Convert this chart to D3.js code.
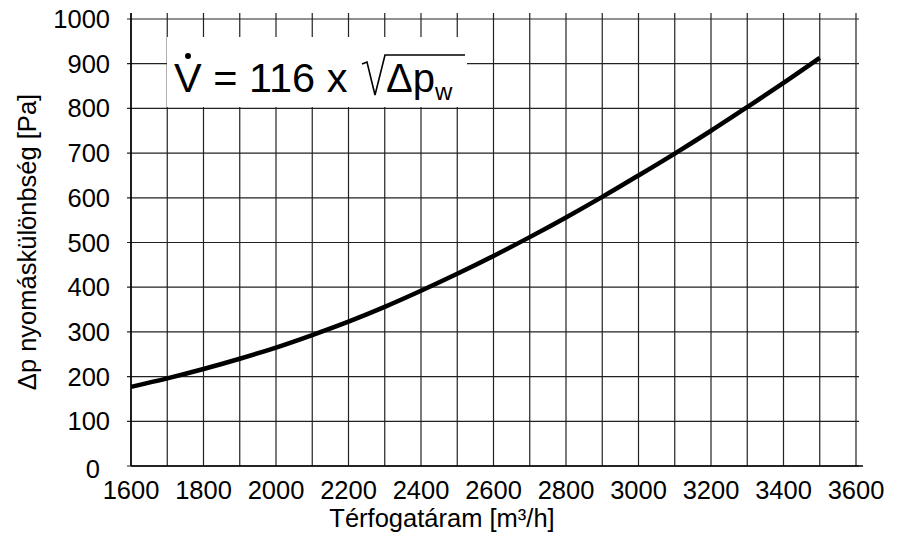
<!DOCTYPE html>
<html>
<head>
<meta charset="utf-8">
<script src="https://cdn.jsdelivr.net/npm/d3@7"></script>
<style>
  body { margin: 0; background: white; }
  text { font-family: "Liberation Sans", Arial, sans-serif; fill: black; }
</style>
</head>
<body>
<div id="chartDIV"></div>
<script>

// values
var flowValues = [1600,1700,1800,1900,2000,2100,2200,2300,2400,2500,2600,2700,2800,2900,3000,3100,3200,3300,3400,3500]
var pressureValues = [177,196,217,240,265,293,323,356,392,430,470,512,556,602,650,699,750,803,857,913]
var xTicks = [1600,1800,2000,2200,2400,2600,2800,3000,3200,3400,3600]
var xGrid = d3.range(1600,3601,100)
var yTicks = [0,100,200,300,400,500,600,700,800,900,1000]
var xLabel = "Térfogatáram [m³/h]"
var yLabel = "Δp nyomáskülönbség [Pa]"

var W = 898, H = 537
var plotLeft = 131, plotRight = 856, plotTop = 19, plotBottom = 466

var svg = d3.select("#chartDIV").append("svg")
  .attr("width",W)
  .attr("height",H)

var x = d3.scaleLinear().domain([1600,3600]).range([plotLeft,plotRight])
var y = d3.scaleLinear().domain([0,1000]).range([plotBottom,plotTop])

// grid
svg.append("g").selectAll("line")
  .data(xGrid)
  .enter()
  .append("line")
  .attr("x1",function(d){ return x(d) })
  .attr("x2",function(d){ return x(d) })
  .attr("y1",plotTop-6)
  .attr("y2",plotBottom)
  .attr("stroke","#222")
  .attr("stroke-width",1.2)

svg.append("g").selectAll("line")
  .data(yTicks)
  .enter()
  .append("line")
  .attr("x1",plotLeft-4)
  .attr("x2",plotRight+3)
  .attr("y1",function(d){ return y(d) })
  .attr("y2",function(d){ return y(d) })
  .attr("stroke","#222")
  .attr("stroke-width",1.2)

// axes lines
svg.append("line")
  .attr("x1",plotLeft).attr("x2",plotRight+7)
  .attr("y1",plotBottom).attr("y2",plotBottom)
  .attr("stroke","black").attr("stroke-width",1.5)
svg.append("line")
  .attr("x1",plotLeft).attr("x2",plotLeft)
  .attr("y1",plotTop-6).attr("y2",plotBottom)
  .attr("stroke","black").attr("stroke-width",1.5)

// tick labels
svg.append("g").selectAll("text")
  .data(yTicks)
  .enter()
  .append("text")
  .attr("x",function(d){ return d==0 ? plotLeft-31 : plotLeft-21 })
  .attr("y",function(d){ return y(d) + (d==0 ? 12 : 9) })
  .attr("text-anchor","end")
  .attr("font-size","25.5px")
  .text(function(d){ return d })

svg.append("g").selectAll("text")
  .data(xTicks)
  .enter()
  .append("text")
  .attr("x",function(d){ return x(d) })
  .attr("y",499)
  .attr("text-anchor","middle")
  .attr("font-size","25.5px")
  .text(function(d){ return d })

// axis titles
svg.append("text")
  .attr("x",442)
  .attr("y",527)
  .attr("text-anchor","middle")
  .attr("font-size","25.5px")
  .text(xLabel)

svg.append("text")
  .attr("transform","translate(36,242) rotate(-90)")
  .attr("text-anchor","middle")
  .attr("font-size","25.5px")
  .text(yLabel)

// curve
var line = d3.line()
  .x(function(d,i){ return x(flowValues[i]) })
  .y(function(d){ return y(d) })
  .curve(d3.curveCatmullRom)

svg.append("path")
  .attr("d",line(pressureValues))
  .attr("fill","none")
  .attr("stroke","black")
  .attr("stroke-width",4.5)

// formula box
var box = svg.append("g")
box.append("rect")
  .attr("x",167).attr("y",37)
  .attr("width",300).attr("height",70)
  .attr("fill","white")

box.append("text")
  .attr("x",174).attr("y",92)
  .attr("font-size","41.5px")
  .text("V = 116 x")
box.append("circle")
  .attr("cx",188).attr("cy",56)
  .attr("r",3)
  .attr("fill","black")

// radical sign
box.append("path")
  .attr("d","M362,64 L367,62 L375,95 L385,55 L465,55")
  .attr("fill","none")
  .attr("stroke","black")
  .attr("stroke-width",1.6)

box.append("text")
  .attr("x",386).attr("y",92)
  .attr("font-size","40px")
  .text("Δp")
box.append("text")
  .attr("x",435).attr("y",100)
  .attr("font-size","24px")
  .text("w")

</script>
</body>
</html>
